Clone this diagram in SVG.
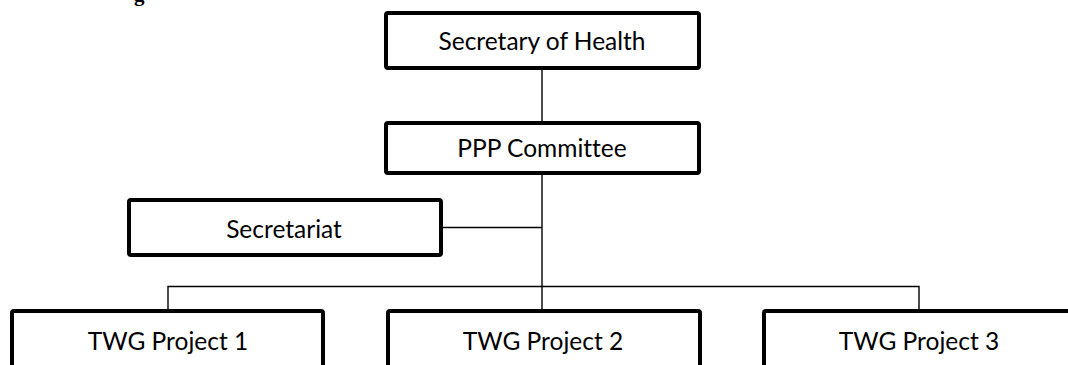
<svg xmlns="http://www.w3.org/2000/svg" width="1068" height="365" viewBox="0 0 1068 365">
<style>
.box{fill:#fff;stroke:#000;stroke-width:4;}
.lbl{font-family:Lato,"Open Sans",sans-serif;font-size:24.5px;fill:#000;text-anchor:middle;font-variant-ligatures:none;}
.conn{stroke:#000;stroke-width:1.4;fill:none;}
.head{font-family:"Liberation Serif",serif;font-weight:bold;font-size:21px;fill:#000;}
</style>
<rect width="1068" height="365" fill="#fff"/>
<text class="head" x="134" y="0.5">g</text>
<g id="connectors">
<line class="conn" x1="542" y1="70" x2="542" y2="121"/>
<line class="conn" x1="542" y1="175" x2="542" y2="309"/>
<line class="conn" x1="443" y1="227.5" x2="542" y2="227.5"/>
<polyline class="conn" points="168,309 168,286.5 919,286.5 919,309"/>
</g>
<g id="secretary-of-health">
<rect class="box" x="386" y="13" width="313" height="55" rx="2"/>
<text class="lbl" x="542" y="50">Secretary of Health</text>
</g>
<g id="ppp-committee">
<rect class="box" x="386" y="123" width="313" height="50" rx="2"/>
<text class="lbl" x="542" y="157">PPP Committee</text>
</g>
<g id="secretariat">
<rect class="box" x="129" y="200" width="312" height="55" rx="2"/>
<text class="lbl" x="284" y="238">Secretariat</text>
</g>
<g id="twg-project-1">
<rect class="box" x="12" y="311" width="311" height="80" rx="2"/>
<text class="lbl" x="168" y="350">TWG Project 1</text>
</g>
<g id="twg-project-2">
<rect class="box" x="388" y="311" width="312" height="80" rx="2"/>
<text class="lbl" x="543" y="350">TWG Project 2</text>
</g>
<g id="twg-project-3">
<rect class="box" x="764" y="311" width="311" height="80" rx="2"/>
<text class="lbl" x="919" y="350">TWG Project 3</text>
</g>
</svg>
